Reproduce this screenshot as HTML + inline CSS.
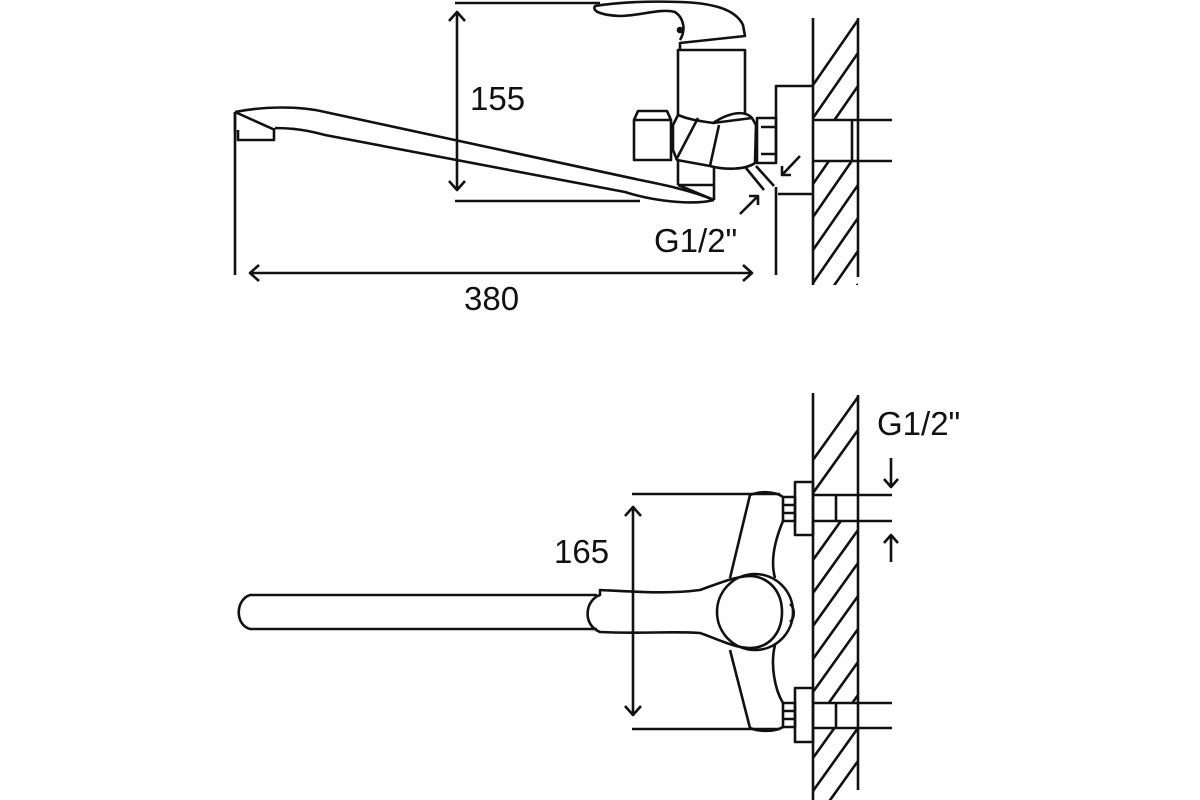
<!DOCTYPE html>
<html><head><meta charset="utf-8"><style>
html,body{margin:0;padding:0;background:#fff}
svg{display:block}
text{font-family:"Liberation Sans","DejaVu Sans",sans-serif;font-size:33px;fill:#111}
</style></head><body>
<svg width="1200" height="800" viewBox="0 0 1200 800" fill="none" stroke="#111" stroke-width="2.6" stroke-linejoin="round">
<defs>
<clipPath id="w1"><path d="M813 18H858V120H813ZM813 161H858V285H813Z"/></clipPath>
<clipPath id="w2"><path d="M813 393H858V495H813ZM813 521H858V703H813ZM813 728H858V800H813Z"/></clipPath>
</defs>
<!-- TOP VIEW -->
<!-- wall -->
<line x1="813" y1="18" x2="813" y2="285"/><line x1="858" y1="18" x2="858" y2="277"/>
<g clip-path="url(#w1)">
<path d="M813 85L858 20M813 118L858 53M813 151L858 86M813 184L858 119M813 217L858 152M813 250L858 185M813 283L858 218M813 316L858 251M813 349L858 284"/>
</g>
<path d="M813 120H892M813 161H892M852 120V161"/>
<!-- escutcheon -->
<path d="M776 160V86H813M778 194H813M776 187V275"/>
<!-- nut -->
<rect x="757" y="118" width="19" height="45"/><path d="M761 127H776M761 154H776"/>
<!-- column & handle -->
<path d="M678 115V50H745V115"/>
<path d="M680 50L680 43L745 36L743 25C735 8 710 3 680 2C650 1 620 2 595 6C592 11 600 15 620 16C640 16 660 8 675 12C684 18 686 30 680 40"/>
<circle cx="680" cy="30" r="2" fill="#111"/>
<!-- body hex -->
<path d="M678 115C690 120 700 121 713 123C730 112 745 110 752 118L756 125L755 163C745 170 725 170 710 166L677 160L673 150V125Z"/>
<path d="M698 118L676 160M719 125L710 166M713 123L752 118"/>
<!-- left cap -->
<path d="M634 120L638 111H667L671 120H634V160H671V120"/>
<!-- below body -->
<path d="M678 160V185M714 166V200M678 185H714"/>
<!-- spout -->
<path d="M235 112C265 106 300 106 325 112L640 180C660 184 690 190 714 200"/>
<path d="M235 112V132M235 112L275 130M275 128C295 128 310 131 325 135L625 192C650 200 690 206 714 200M238 130V140H274V128"/>
<path d="M678 185L714 200"/>
<!-- small lines near nut -->
<path d="M746 168L764 190M756 166L774 186"/>
<!-- dims -->
<path d="M455 3H600M455 201H640M457 12V190M449 21L457 12L465 21M449 181L457 190L465 181"/>
<path d="M235 112V275M250 273H752M259 265L250 273L259 281M743 265L752 273L743 281"/>
<path d="M800 156L782 175M782 166V175H791M740 214L758 196M749 196H758V205"/>
<text x="470" y="110" stroke="none">155</text>
<text x="464" y="310" stroke="none">380</text>
<text x="654" y="252" stroke="none">G1/2"</text>

<!-- BOTTOM VIEW -->
<line x1="813" y1="393" x2="813" y2="800"/><line x1="858" y1="395" x2="858" y2="790"/>
<g clip-path="url(#w2)">
<path d="M813 460L858 397M813 493L858 430M813 560L858 497M813 593L858 530M813 626L858 563M813 659L858 596M813 692L858 629M813 725L858 662M813 758L858 695M813 791L858 728M813 824L858 761"/>
</g>
<path d="M813 495H892M813 521H892M836 495V521M813 703H892M813 728H892M836 703V728"/>
<rect x="795" y="482" width="18" height="53"/><rect x="795" y="688" width="18" height="54"/>
<path d="M783 497H795V521H783ZM783 505H795M783 513H795M783 703H795V727H783ZM783 711H795M783 719H795"/>
<!-- body -->
<path d="M750 495C760 491 775 491 783 497M750 495L730 578M783 521C775 540 770 560 775 578"/>
<path d="M750 728C760 732 775 732 783 727M750 728L730 650M783 703C775 690 770 665 775 645"/>
<!-- handle -->
<path d="M600 595C585 600 582 625 600 632C640 634 670 631 700 633C720 640 735 648 750 648C770 648 782 632 782 612C782 592 770 578 752 576C735 576 720 583 700 590C670 594 640 592 600 590Z"/>
<circle cx="755" cy="612" r="38"/>
<path d="M790 604C795 608 795 618 790 622"/>
<!-- spout -->
<path d="M597 595H250C235 600 235 625 250 629H597"/>
<!-- dims -->
<path d="M632 494H780M632 729H780M633 507V715M625 516L633 507L641 516M625 706L633 715L641 706"/>
<path d="M891 458V487M884 479L891 487L898 479M891 562V535M884 543L891 535L898 543"/>
<text x="554" y="563" stroke="none">165</text>
<text x="877" y="435" stroke="none">G1/2"</text>
</svg>
</body></html>
